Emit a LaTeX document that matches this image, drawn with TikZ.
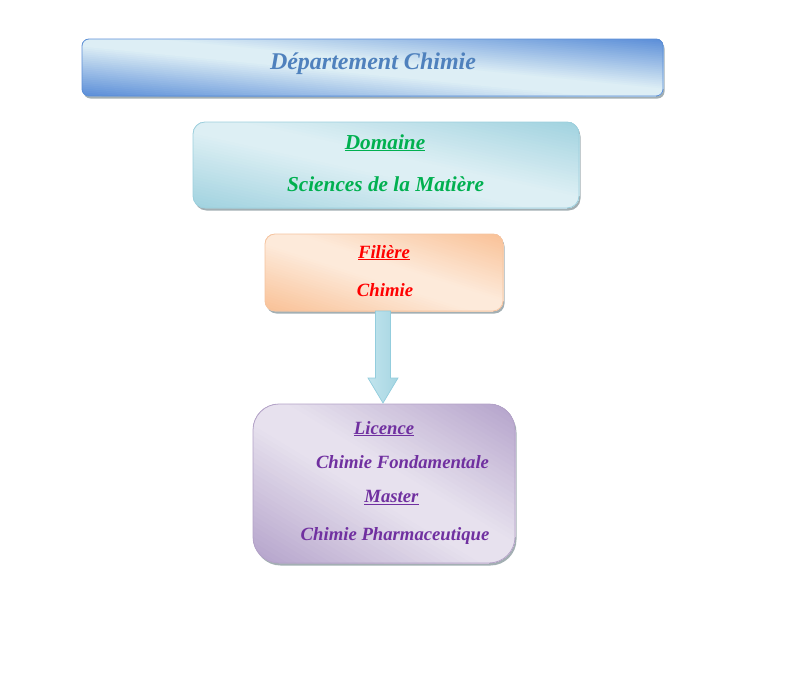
\documentclass[tikz,border=0pt]{standalone}
\usepackage{fontspec}
\setmainfont{Liberation Serif}
\usetikzlibrary{calc,shadows}
\definecolor{blueD}{HTML}{5A8DD8}
\definecolor{blueL}{HTML}{DDEEF5}
\definecolor{blueB}{HTML}{5B8ED6}
\definecolor{tealD}{HTML}{A0D2DF}
\definecolor{tealL}{HTML}{DDEFF4}
\definecolor{tealB}{HTML}{9CCFDD}
\definecolor{orD}{HTML}{F9C196}
\definecolor{orL}{HTML}{FDEADA}
\definecolor{orB}{HTML}{F5C4A0}
\definecolor{puD}{HTML}{B3A2CA}
\definecolor{puL}{HTML}{E7E1EE}
\definecolor{puB}{HTML}{B3A2C7}
\definecolor{arD}{HTML}{A5D5E2}
\definecolor{arM}{HTML}{DDF0F5}
\definecolor{arLe}{HTML}{C2E4ED}
\definecolor{arB}{HTML}{93CDDD}
\definecolor{txtblue}{HTML}{4F81BD}
\definecolor{txtgreen}{HTML}{00B050}
\definecolor{txtred}{HTML}{FF0000}
\definecolor{txtpurple}{HTML}{7030A0}
\definecolor{shadowc}{HTML}{A3AFB3}
% diagonal gradient (dark at bottom-left and top-right corners, light along the other diagonal)
\newcommand\gradfill[7]{%
  \begin{scope}
    \clip[rounded corners=#4] (#1.south west) rectangle (#1.north east);
    \begin{scope}[shift={(#1.center)}, xscale=#2/2, yscale=-#3/2]
      \foreach \i in {0,...,59}{%
        \pgfmathsetmacro\cc{-2+4*\i/60}%
        \pgfmathsetmacro\pp{100*max(0,min(1,(abs(\cc+2/60)/2-0.12)/0.88))}%
        \fill[#5!\pp!#6] (\cc/2-5,\cc/2+5) -- (\cc/2+5,\cc/2-5) -- (20,20) -- cycle;
      }
    \end{scope}
  \end{scope}
  \draw[#7, line width=0.8pt, rounded corners=#4] (#1.south west) rectangle (#1.north east);
}
\tikzset{
  box/.style={fill=white, inner sep=0pt, outer sep=0pt,
    drop shadow={shadow xshift=1.5pt, shadow yshift=-2.5pt, fill=shadowc, opacity=1}},
  lbl/.style={anchor=base, inner sep=0pt},
  arrowstyle/.style={draw=arB, line width=0.7pt, left color=arLe, middle color=arM, right color=arD},
}
\begin{document}
\begin{tikzpicture}[x=1pt,y=-1pt]
\useasboundingbox (0,0) rectangle (809,678);
% boxes
\node[box, rounded corners=7pt, minimum width=581pt, minimum height=57pt] (dep) at (372.5,67.5) {};
\gradfill{dep}{581}{57}{7pt}{blueD}{blueL}{blueB}
\node[box, rounded corners=12pt, minimum width=386pt, minimum height=86pt] (dom) at (386,165) {};
\gradfill{dom}{386}{86}{12pt}{tealD}{tealL}{tealB}
\node[box, rounded corners=10pt, minimum width=238pt, minimum height=77pt] (fil) at (384,272.5) {};
\gradfill{fil}{238}{77}{10pt}{orD}{orL}{orB}
\node[box, rounded corners=26pt, minimum width=262pt, minimum height=159pt] (lic) at (384,483.5) {};
\gradfill{lic}{262}{159}{26pt}{puD}{puL}{puB}
% block arrow
\coordinate (at) at ($(fil.south)+(-1,0)$);
\coordinate (ab) at ($(lic.north)+(-1,-1)$);
\draw[arrowstyle] ($(at)+(-7.5,0)$) -- ($(at)+(7.5,0)$) -- ($(ab)+(7.5,-25)$)
  -- ($(ab)+(15,-25)$) -- (ab) -- ($(ab)+(-15,-25)$) -- ($(ab)+(-7.5,-25)$) -- cycle;
% texts
\node[lbl, text=txtblue, font=\fontsize{24}{28}\selectfont\bfseries\itshape] (tdep) at (373,69) {Département Chimie};
\node[lbl, text=txtgreen, font=\fontsize{21.3}{25}\selectfont\bfseries\itshape] (tdom) at (385,149) {\underline{Domaine}};
\node[lbl, text=txtgreen, font=\fontsize{21.3}{25}\selectfont\bfseries\itshape] (tsci) at (385.5,191) {Sciences de la Matière};
\node[lbl, text=txtred, font=\fontsize{18.7}{22}\selectfont\bfseries\itshape] (tfil) at (384,258) {\underline{Filière}};
\node[lbl, text=txtred, font=\fontsize{18.7}{22}\selectfont\bfseries\itshape] (tchi) at (385,296) {Chimie};
\node[lbl, text=txtpurple, font=\fontsize{18.7}{22}\selectfont\bfseries\itshape] (tlic) at (384,434) {\underline{Licence}};
\node[lbl, text=txtpurple, font=\fontsize{18.7}{22}\selectfont\bfseries\itshape] (tfon) at (402.5,468) {Chimie Fondamentale};
\node[lbl, text=txtpurple, font=\fontsize{18.7}{22}\selectfont\bfseries\itshape] (tmas) at (391.5,502.5) {\underline{Master}};
\node[lbl, text=txtpurple, font=\fontsize{18.7}{22}\selectfont\bfseries\itshape] (tpha) at (395,540) {Chimie Pharmaceutique};
\end{tikzpicture}
\end{document}
